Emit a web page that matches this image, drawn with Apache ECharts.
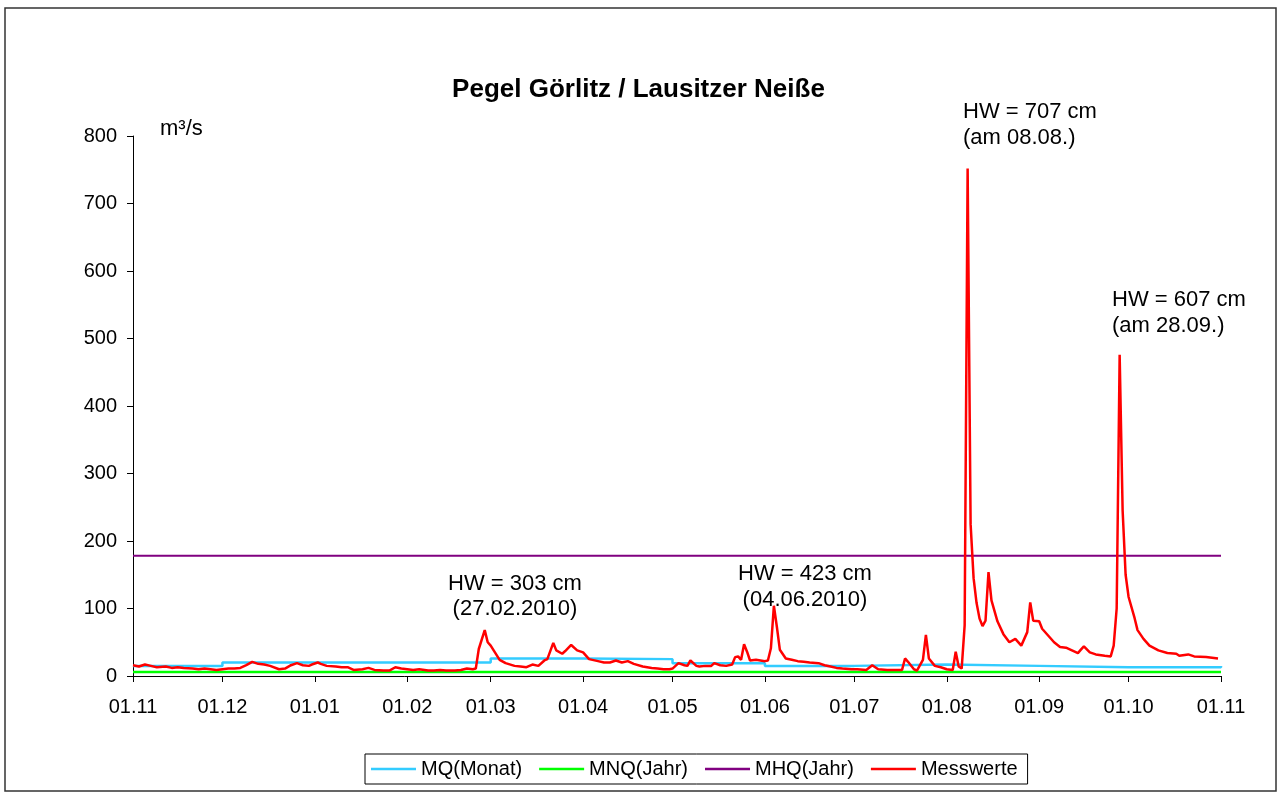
<!DOCTYPE html>
<html><head><meta charset="utf-8">
<script src="https://cdn.jsdelivr.net/npm/echarts@6/dist/echarts.min.js"></script>
<style>html,body{margin:0;padding:0;background:#fff}#c{width:1277px;height:792px}</style>
</head><body><div id="c"></div>
<script>
// ---- data ----
const startDate = '2009-11-01';
const tickDates = ['2009-11-01','2009-12-01','2010-01-01','2010-02-01','2010-03-01','2010-04-01','2010-05-01','2010-06-01','2010-07-01','2010-08-01','2010-09-01','2010-10-01','2010-11-01'];
const tickLabels = ['01.11','01.12','01.01','01.02','01.03','01.04','01.05','01.06','01.07','01.08','01.09','01.10','01.11'];
const yTicks = [0,100,200,300,400,500,600,700,800];
const mqValues = [15,20,20,20,26,25,19,15,17,15,13,13,15];   // MQ(Monat), per month start
const mnqValue = 6;    // MNQ(Jahr)
const mhqValue = 178;  // MHQ(Jahr)
const messDates = [
'2009-11-01','2009-11-03','2009-11-05','2009-11-07','2009-11-09','2009-11-12','2009-11-14','2009-11-16','2009-11-18','2009-11-21','2009-11-23','2009-11-25','2009-11-27','2009-11-29',
'2009-12-01','2009-12-03','2009-12-05','2009-12-07','2009-12-09','2009-12-11','2009-12-13','2009-12-15','2009-12-17','2009-12-20','2009-12-22','2009-12-24','2009-12-26','2009-12-28','2009-12-30','2009-12-31',
'2010-01-02','2010-01-03','2010-01-05','2010-01-08','2010-01-10','2010-01-12','2010-01-14','2010-01-17','2010-01-19','2010-01-21','2010-01-24','2010-01-26','2010-01-28','2010-01-30',
'2010-02-01','2010-02-03','2010-02-05','2010-02-08','2010-02-10','2010-02-12','2010-02-14','2010-02-17','2010-02-19','2010-02-21','2010-02-23','2010-02-24','2010-02-25','2010-02-27','2010-02-28',
'2010-03-01','2010-03-02','2010-03-04','2010-03-06','2010-03-09','2010-03-11','2010-03-13','2010-03-15','2010-03-17','2010-03-19','2010-03-20','2010-03-22','2010-03-23','2010-03-25','2010-03-26','2010-03-28','2010-03-30',
'2010-04-01','2010-04-03','2010-04-06','2010-04-08','2010-04-10','2010-04-12','2010-04-14','2010-04-16','2010-04-18','2010-04-21','2010-04-24','2010-04-26','2010-04-28','2010-04-30',
'2010-05-01','2010-05-03','2010-05-05','2010-05-06','2010-05-07','2010-05-09','2010-05-10','2010-05-12','2010-05-14','2010-05-15','2010-05-17','2010-05-19','2010-05-21','2010-05-22','2010-05-23','2010-05-24','2010-05-25','2010-05-26','2010-05-27','2010-05-29',
'2010-06-01','2010-06-02','2010-06-03','2010-06-04','2010-06-05','2010-06-06','2010-06-08','2010-06-10','2010-06-12','2010-06-14','2010-06-16','2010-06-19','2010-06-21','2010-06-23','2010-06-25','2010-06-27','2010-06-30',
'2010-07-02','2010-07-05','2010-07-07','2010-07-09','2010-07-12','2010-07-15','2010-07-17','2010-07-18','2010-07-19','2010-07-21','2010-07-22','2010-07-24','2010-07-25','2010-07-26','2010-07-28','2010-07-30',
'2010-08-01','2010-08-03','2010-08-04','2010-08-05','2010-08-06','2010-08-07','2010-08-08','2010-08-09','2010-08-10','2010-08-11','2010-08-12','2010-08-13','2010-08-14','2010-08-15','2010-08-16','2010-08-18','2010-08-20','2010-08-22','2010-08-24','2010-08-26','2010-08-28','2010-08-29','2010-08-30',
'2010-09-01','2010-09-02','2010-09-04','2010-09-06','2010-09-08','2010-09-10','2010-09-12','2010-09-14','2010-09-15','2010-09-16','2010-09-18','2010-09-20','2010-09-23','2010-09-25','2010-09-26','2010-09-27','2010-09-28','2010-09-29','2010-09-30',
'2010-10-01','2010-10-03','2010-10-04','2010-10-06','2010-10-08','2010-10-11','2010-10-14','2010-10-17','2010-10-18','2010-10-21','2010-10-23','2010-10-27','2010-10-31'
];
const messValues = [
16,14,17,15,13,14,12,13,12,11,10,11,10,9,
10,11,11,12,16,21,18,17,15,10,11,16,19,16,15,17,
20,18,15,14,13,13,9,10,12,9,8,8,13,11,
10,9,10,8,8,9,8,8,9,11,10,11,40,68,50,
45,38,24,19,15,14,13,17,15,23,25,49,38,33,37,46,38,
35,25,22,20,20,23,20,22,18,14,12,11,10,10,
11,19,16,15,23,15,14,15,15,19,16,15,17,28,29,24,47,36,23,24,
22,23,41,104,73,39,26,24,22,21,20,19,16,14,12,11,10,
10,9,16,10,9,9,9,26,21,10,8,24,61,26,15,13,
10,9,36,14,11,75,752,225,145,108,85,74,82,154,112,81,62,50,55,45,65,109,82,
81,70,60,50,43,42,38,34,39,44,35,32,30,29,45,100,476,245,150,
117,86,68,55,45,38,34,33,30,32,29,28,26
];
const annotations = [
  {text: 'HW = 707 cm\n(am 08.08.)'},
  {text: 'HW = 607 cm\n(am 28.09.)'},
  {text: 'HW = 303 cm\n(27.02.2010)'},
  {text: 'HW = 423 cm\n(04.06.2010)'}
];

// ---- helpers ----
function dayOf(s) {
  const p = s.split('-').map(Number), q = startDate.split('-').map(Number);
  return Math.round((Date.UTC(p[0], p[1]-1, p[2]) - Date.UTC(q[0], q[1]-1, q[2])) / 86400000);
}
const tickDays = tickDates.map(dayOf);
const FONT = '"Liberation Sans", Arial, sans-serif';

const chart = echarts.init(document.getElementById('c'));
chart.setOption({
  animation: false,
  backgroundColor: '#fff',
  title: {
    text: 'Pegel Görlitz / Lausitzer Neiße',
    left: 'center', top: 77, padding: 0,
    textStyle: {fontFamily: FONT, fontSize: 26, fontWeight: 'bold', color: '#000'}
  },
  grid: {left: 133, right: 56, top: 136, bottom: 116, containLabel: false},
  xAxis: {
    type: 'value', min: tickDays[0], max: tickDays[tickDays.length-1],
    splitLine: {show: false},
    axisLine: {show: true, onZero: false, lineStyle: {color: '#000', width: 1}},
    axisTick: {show: true, length: 6, lineStyle: {color: '#000'}, customValues: tickDays},
    axisLabel: {
      customValues: tickDays, margin: 21,
      fontFamily: FONT, fontSize: 20, color: '#000',
      formatter: v => { const i = tickDays.indexOf(Math.round(v)); return i >= 0 ? tickLabels[i] : ''; }
    }
  },
  yAxis: {
    type: 'value', min: yTicks[0], max: yTicks[yTicks.length-1], interval: 100,
    splitLine: {show: false},
    axisLine: {show: true, lineStyle: {color: '#000', width: 1}},
    axisTick: {show: true, length: 6, lineStyle: {color: '#000'}},
    axisLabel: {margin: 16, fontFamily: FONT, fontSize: 20, color: '#000'}
  },
  legend: {
    left: 365, top: 754,
    data: ['MQ(Monat)', 'MNQ(Jahr)', 'MHQ(Jahr)', 'Messwerte'],
    icon: 'rect',
    itemWidth: 45, itemHeight: 2.5, itemGap: 17,
    padding: [5, 10, 5, 6],
    borderColor: '#000', borderWidth: 1,
    textStyle: {fontFamily: FONT, fontSize: 20, color: '#000'}
  },
  graphic: [
    {type: 'rect', shape: {x: 5, y: 8, width: 1271, height: 783}, style: {fill: 'none', stroke: '#333', lineWidth: 1.5}, silent: true},
    {type: 'text', left: 160, top: 118, style: {text: 'm³/s', font: '22px ' + FONT, fill: '#000'}},
    {type: 'text', left: 963, top: 99, style: {text: annotations[0].text, font: '22px ' + FONT, fill: '#000', lineHeight: 26}},
    {type: 'text', left: 1112, top: 287, style: {text: annotations[1].text, font: '22px ' + FONT, fill: '#000', lineHeight: 26}},
    {type: 'text', x: 515, y: 571, style: {text: annotations[2].text, font: '22px ' + FONT, fill: '#000', lineHeight: 25, textAlign: 'center'}},
    {type: 'text', x: 805, y: 561, style: {text: annotations[3].text, font: '22px ' + FONT, fill: '#000', lineHeight: 26, textAlign: 'center'}}
  ],
  series: [
    {
      name: 'MQ(Monat)', type: 'line', step: 'end', symbol: 'none',
      data: tickDays.map((d, i) => [d, mqValues[i]]),
      lineStyle: {color: '#33CCFF', width: 2.5}, itemStyle: {color: '#33CCFF'}
    },
    {
      name: 'MNQ(Jahr)', type: 'line', symbol: 'none',
      data: tickDays.map(d => [d, mnqValue]),
      lineStyle: {color: '#00FF00', width: 2.5}, itemStyle: {color: '#00FF00'}
    },
    {
      name: 'MHQ(Jahr)', type: 'line', symbol: 'none',
      data: tickDays.map(d => [d, mhqValue]),
      lineStyle: {color: '#800080', width: 2}, itemStyle: {color: '#800080'}
    },
    {
      name: 'Messwerte', type: 'line', symbol: 'none',
      data: messDates.map((s, i) => [dayOf(s), messValues[i]]),
      lineStyle: {color: '#FF0000', width: 2.5}, itemStyle: {color: '#FF0000'}
    }
  ]
});
</script></body></html>
